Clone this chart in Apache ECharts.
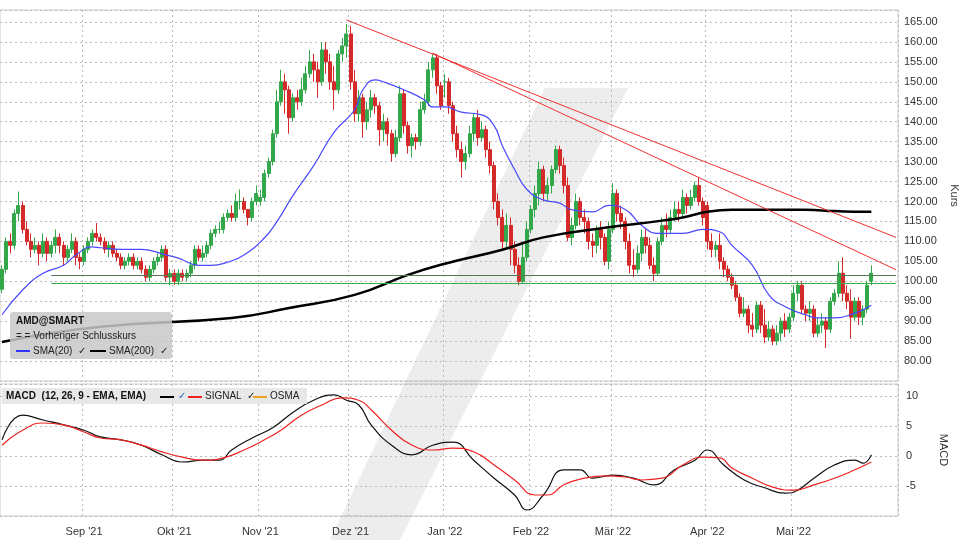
<!DOCTYPE html>
<html>
<head>
<meta charset="utf-8">
<script src="https://cdn.jsdelivr.net/npm/echarts@6/dist/echarts.min.js"></script>
<style>html,body{margin:0;padding:0;background:#fff}#main{width:960px;height:540px}</style>
</head>
<body>
<div id="main"></div>
<script>
// Kursdaten je Handelstag: [open, close, low, high]
const aug21 = [[98,103,97,104],[103,110,102,111],[110,109,107,112],[109,117,108,118],[117,119,115,122.5],[119,113,112,120],[113,110,109,115],[110,108,106,112],[108,109,107,111],[109,107,104,110],[107,110,106,112],[110,107,105,111],[107,109,106,110],[109,111,107,113],[111,109,107,112],[109,106,104,110],[106,108,105,109],[108,110,107,112],[110,106,104,111],[106,105,103,107]]
const sep21 = [[105,108,104,109],[108,110,107,111],[110,112,109,113],[112,111,110,114.6],[111,110,109,112],[110,108,107,111],[108,109,106,110],[109,107,106,110],[107,106,105,108],[106,104,103,107],[104,105,103,106],[105,106,104,107],[106,104,103,107],[104,105,103,106],[105,103,102,106],[103,101,100,104],[101,103,100,104],[103,105,102,106],[105,106,104,107],[106,108,105,109],[108,101,100,109],[101,102,99,103]]
const okt21 = [[102,100,99,103],[100,102,99,103],[102,101,100,103],[101,102,100,103],[102,104,101,105],[104,108,103,109],[108,106,105,109],[106,107,105,109],[107,109,106,110],[109,112,108,113],[112,113,111,114],[113,113,112,115],[113,116,112,117],[116,117,115,118],[117,116,115,119],[116,120,115,122],[120,120,118,123],[120,118,117,121],[118,116,114,118],[116,120,115,121],[120,122,119,124]]
const nov21 = [[120,121,119,123],[121,127,120,128],[127,130,126,131],[130,137,129,138],[137,145,136,148],[145,150,144,153],[150,148,142,152],[148,141,137,149],[141,146,140,147],[146,145,143,148],[145,148,144,151],[148,152,147,154],[152,155,151,158],[155,153,150,157],[153,150,146,155],[150,158,149,160],[158,155,152,160],[155,150,148,157],[150,148,143,154],[148,157,147,158],[157,159,155,161],[159,162,156,164.5]]
const dez21 = [[162,150,148,164],[150,142,140,153],[142,146,140,148],[146,140,136,147],[140,143,138,145],[143,146,141,148],[146,144,142,147],[144,138,134,145],[138,140,135,142],[140,137,134,141],[137,132,130,138],[132,136,131,138],[136,147,135,149],[147,139,137,148],[139,134,132,140],[134,136,131,137],[136,135,133,137],[135,143,134,145],[143,145,142,147],[145,153,144,155],[153,156,151,157],[156,149,147,157],[149,144,143,150]]
const jan22 = [[150,150,146,152],[150,144,142,151],[144,137,135,145],[137,133,131,139],[133,130,126,135],[130,132,128,134],[132,137,131,139],[137,141,135,142],[141,136,134,143],[136,138,135,140],[138,133,131,139],[133,129,127,135],[129,120,118,130],[120,116,114,122],[116,110,108,118],[110,114,108,117],[114,108,104,116],[108,104,102,110],[104,100,99,106],[100,106,99.5,110],[106,113,105,115]]
const feb22 = [[113,118,112,119],[118,122,116,124],[122,128,119,130],[128,122,120,129],[122,124,120,126],[124,128,122,129],[128,133,127,134],[133,129,127,134],[129,124,122,131],[124,111,110,126],[111,114,109,116],[114,120,113,122],[120,116,114,121],[116,115,112,118],[115,110,108,116],[110,109,106,112],[109,113,107,114],[113,111,108,115],[111,105,104,112],[105,113,103,115]]
const mar22 = [[113,122,112,124.6],[122,117,115,123],[117,115,113,119],[115,110,108,116],[110,104,102,112],[104,103,101,108],[103,107,102,109],[107,111,105,113],[111,109,107,113],[109,104,103,111],[104,102,100,106],[102,110,101.5,111],[110,114,109,116],[114,113,111,117],[113,116,112,118],[116,118,115,120],[118,117,115,120],[117,121,116,123],[121,119,117,122],[119,121,118,123],[121,124,120,125],[124,120,119,126],[120,116,114,121]]
const apr22 = [[119,110,108,120],[110,108,106,112],[108,109,106,110],[109,105,103,112],[105,103,101,106],[103,101,100,104],[101,99,98,102],[99,96,95,100],[96,92,91,97],[92,93,91,96],[93,89,87,94],[89,88,86,92],[88,94,87,95],[94,89,87,95],[89,86,84.5,93],[86,88,85,90],[88,85,84,89],[85,87,84,89],[87,90,85,91],[90,88,86,92],[88,91,87,92]]
const mai22 = [[91,97,90,99],[97,99,95,100],[99,93,92,100],[93,92,90,94],[92,93,90,95],[93,87,86,94],[87,89,86,91],[89,90,87,92],[90,88,83.3,91],[88,95,87,96],[95,97,94,98],[97,102,96,105],[102,97,95,106],[97,95,93,99],[95,91,85.6,98],[91,95,90,96],[95,91,89,96],[91,93,89,94],[93,99,92,100],[100,102,99,104]]

// gleitende Durchschnitte: [Tagesindex, Wert]
const sma20 = [[0,91.6],[5,97.8],[10,102],[15,104],[18,106.6],[22,108.6],[24,108.4],[29,108],[34,108],[40,106.6],[43,105.8],[48,104],[51,104],[55,104.8],[59,106.6],[64,110.9],[67,114.9],[71,121.6],[76,129],[81,137.4],[86,143],[88,148],[91,150.5],[93,150],[98,148],[103,145.5],[105,143.7],[108,143.7],[112,142.4],[117,141.7],[120,139],[122,134],[125,128],[128,123],[132,120.4],[136,119.6],[139,117.9],[144,117.4],[148,119],[152,118],[156,114],[160,112],[163,112],[166,112],[171,113],[175,112.4],[178,109],[183,104],[187,96.6],[191,93.6],[196,91.6],[199,90.8],[203,90.8],[208,92],[212,94]]
const sma200 = [[0,84.8],[24,88.6],[56,90.8],[70,93.3],[86,96.6],[99,101.6],[108,104.4],[122,107.9],[132,111],[147,113.4],[161,115.2],[166,116],[172,117.4],[178,117.9],[196,117.9],[203,117.6],[210,117.4],[212,117.4]]
const macd = [[0,2.7],[5,6.8],[10,6],[15,5.2],[20,4.3],[24,3.2],[29,2.7],[34,1.8],[39,0.2],[44,-1],[49,-0.7],[53,-0.7],[56,1],[61,3],[66,4.7],[71,7.3],[76,9.3],[81,10.2],[84,9.3],[87,8.5],[90,5.2],[95,1.8],[100,0.2],[105,1.8],[110,2.3],[115,-0.7],[120,-3.7],[125,-6.5],[128,-9],[132,-6.5],[137,-2.3],[141,-2.3],[144,-3.7],[149,-3.2],[154,-3.7],[159,-4.8],[164,-2.3],[169,-0.7],[172,1],[176,-1.5],[181,-4],[186,-5.3],[191,-6.2],[194,-5.7],[198,-3.7],[203,-1.5],[208,-0.7],[210,-1.2],[212,0.2]]
const signal = [[0,1.8],[5,4.3],[10,5.5],[15,5.2],[20,4],[24,3],[29,2.7],[34,1.8],[39,0.7],[44,-0.2],[49,-0.7],[54,-0.3],[59,1],[64,2.7],[68,4.3],[73,6.8],[78,8.5],[83,9.7],[87,9.3],[90,7.7],[95,4.3],[100,1.8],[105,1],[110,1.3],[115,0.7],[120,-1.5],[125,-4],[130,-6.5],[133,-6.5],[137,-4.8],[142,-3.7],[147,-3.3],[152,-3.5],[156,-4],[161,-3.7],[166,-1.5],[171,-0.2],[175,-0.3],[178,-2],[183,-3.7],[188,-5.2],[193,-5.7],[198,-4.8],[203,-3.7],[208,-2.3],[212,-1]]

// Trendlinien [startIndex, startKurs, endIndex, endKurs], Unterstützungen
const trendLines = [[84,165.5,218,111],[105,157.2,218,102.9]]
const supports = [101.6, 99.6]
const monthNames = ['Jan','Feb','Mär','Apr','Mai','Jun','Jul','Aug','Sep','Okt','Nov','Dez']

const candles = [].concat(aug21, sep21, okt21, nov21, dez21, jan22, feb22, mar22, apr22, mai22)

// Handelstage (Mo-Fr) ab 4.8.2021, plus ein paar leere Tage rechts
const days = []
let d = new Date(2021, 7, 4)
while (days.length < candles.length + 6) {
  if (d.getDay() !== 0 && d.getDay() !== 6) days.push(new Date(d))
  d.setDate(d.getDate() + 1)
}
const cats = days.map(x => x.getFullYear() + '-' + (x.getMonth() + 1) + '-' + x.getDate())
const isMonthStart = i => i > 0 && i < candles.length && days[i].getMonth() !== days[i - 1].getMonth()
const fmtMonth = i => monthNames[days[i].getMonth()] + " '" + String(days[i].getFullYear()).slice(2)

let myChart = echarts.init(document.getElementById('main'))

const gridLine = {show: true, lineStyle: {color: '#bbb', type: [2, 3]}}
const xBase = {
  type: 'category', data: cats, boundaryGap: true,
  axisLine: {show: false}, axisTick: {show: false},
  splitLine: Object.assign({interval: (i) => isMonthStart(i)}, gridLine)
}

myChart.setOption({
  animation: false,
  textStyle: {fontFamily: 'Liberation Sans, Arial, sans-serif'},
  grid: [
    {left: 0, right: 62, top: 10, height: 371, show: true, borderColor: '#ccc', borderWidth: 1, outerBoundsMode: 'none'},
    {left: 0, right: 62, top: 384, height: 132, show: true, borderColor: '#ccc', borderWidth: 1, outerBoundsMode: 'none'}
  ],
  xAxis: [
    Object.assign({gridIndex: 0, axisLabel: {show: false}}, xBase),
    Object.assign({gridIndex: 1, axisLabel: {
      interval: (i) => isMonthStart(i), formatter: (v, i) => fmtMonth(i),
      color: '#333', fontSize: 11, margin: 10
    }}, xBase)
  ],
  yAxis: [
    {gridIndex: 0, position: 'right', min: 75, max: 168, interval: 5,
      name: 'Kurs', nameLocation: 'middle', nameRotate: -90, nameGap: 44,
      nameTextStyle: {color: '#333', fontSize: 11},
      axisLine: {show: false}, axisTick: {show: false},
      axisLabel: {color: '#333', fontSize: 11, margin: 6,
        formatter: v => (v < 80 || v > 165) ? '' : v.toFixed(2)},
      splitLine: gridLine},
    {gridIndex: 1, position: 'right', min: -10, max: 12, interval: 5,
      name: 'MACD', nameLocation: 'middle', nameRotate: -90, nameGap: 40,
      nameTextStyle: {color: '#333', fontSize: 11},
      axisLine: {show: false}, axisTick: {show: false},
      axisLabel: {color: '#333', fontSize: 11, margin: 8,
        formatter: v => (v < -5 || v > 10) ? '' : String(v)},
      splitLine: gridLine}
  ],
  graphic: [
    // Wasserzeichen
    {type: 'polygon', z: 0, silent: true,
      shape: {points: [[545, 88], [628, 88], [400, 540], [330, 540]]},
      style: {fill: 'rgba(0,0,0,0.07)'}},
    // Legende Hauptchart
    {type: 'rect', z: 100, shape: {x: 10, y: 312, width: 162, height: 47, r: 3},
      style: {fill: 'rgba(200,200,200,0.85)'}},
    {type: 'text', z: 101, left: 16, top: 316,
      style: {text: 'AMD@SMART', font: 'bold 10px Liberation Sans', fill: '#111'}},
    {type: 'text', z: 101, left: 16, top: 331,
      style: {text: '= = Vorheriger Schlusskurs', font: '10px Liberation Sans', fill: '#222'}},
    {type: 'line', z: 101, shape: {x1: 16, y1: 351, x2: 30, y2: 351}, style: {stroke: '#3333ff', lineWidth: 2}},
    {type: 'text', z: 101, left: 33, top: 346,
      style: {text: 'SMA(20)  ✓', font: '10px Liberation Sans', fill: '#222'}},
    {type: 'line', z: 101, shape: {x1: 90, y1: 351, x2: 106, y2: 351}, style: {stroke: '#000', lineWidth: 2}},
    {type: 'text', z: 101, left: 109, top: 346,
      style: {text: 'SMA(200)  ✓', font: '10px Liberation Sans', fill: '#222'}},
    // Legende MACD
    {type: 'rect', z: 100, shape: {x: 2, y: 388, width: 305, height: 16},
      style: {fill: 'rgba(230,230,230,0.9)'}},
    {type: 'text', z: 101, left: 6, top: 391,
      style: {text: 'MACD  (12, 26, 9 - EMA, EMA)', font: 'bold 10px Liberation Sans', fill: '#111'}},
    {type: 'line', z: 101, shape: {x1: 160, y1: 397, x2: 174, y2: 397}, style: {stroke: '#000', lineWidth: 2}},
    {type: 'text', z: 101, left: 178, top: 391, style: {text: '✓', font: '10px Liberation Sans', fill: '#2266cc'}},
    {type: 'line', z: 101, shape: {x1: 188, y1: 397, x2: 202, y2: 397}, style: {stroke: '#ee2222', lineWidth: 2}},
    {type: 'text', z: 101, left: 205, top: 391, style: {text: 'SIGNAL  ✓', font: '10px Liberation Sans', fill: '#222'}},
    {type: 'line', z: 101, shape: {x1: 253, y1: 397, x2: 267, y2: 397}, style: {stroke: '#f0a020', lineWidth: 2}},
    {type: 'text', z: 101, left: 270, top: 391, style: {text: 'OSMA', font: '10px Liberation Sans', fill: '#222'}}
  ],
  series: [
    {
      type: 'candlestick', xAxisIndex: 0, yAxisIndex: 0, data: candles, barWidth: 3.5,
      itemStyle: {color: '#33a84a', color0: '#d42a2a', borderColor: '#33a84a', borderColor0: '#d42a2a', borderWidth: 1},
      markLine: {
        symbol: 'none', silent: true, label: {show: false}, animation: false,
        data: supports.map((v, k) => [
          {coord: [cats[12], v], lineStyle: {color: k === 0 ? '#557755' : '#3cab4c', width: 1, type: 'solid'}},
          {coord: [cats[cats.length - 1], v]}
        ]).concat(trendLines.map(t => [
          {coord: [cats[t[0]], t[1]], lineStyle: {color: '#f03030', width: 1, type: 'solid'}},
          {coord: [cats[t[2]], t[3]]}
        ]))
      }
    },
    {type: 'line', name: 'SMA(20)', xAxisIndex: 0, yAxisIndex: 0, data: sma20, smooth: true,
      showSymbol: false, lineStyle: {color: '#4848ff', width: 1.2}},
    {type: 'line', name: 'SMA(200)', xAxisIndex: 0, yAxisIndex: 0, data: sma200, smooth: true,
      showSymbol: false, lineStyle: {color: '#000', width: 2.5}},
    {type: 'line', name: 'MACD', xAxisIndex: 1, yAxisIndex: 1, data: macd, smooth: true,
      showSymbol: false, lineStyle: {color: '#111', width: 1.2}},
    {type: 'line', name: 'SIGNAL', xAxisIndex: 1, yAxisIndex: 1, data: signal, smooth: true,
      showSymbol: false, lineStyle: {color: '#ee2222', width: 1.2}}
  ]
})
</script>
</body>
</html>
